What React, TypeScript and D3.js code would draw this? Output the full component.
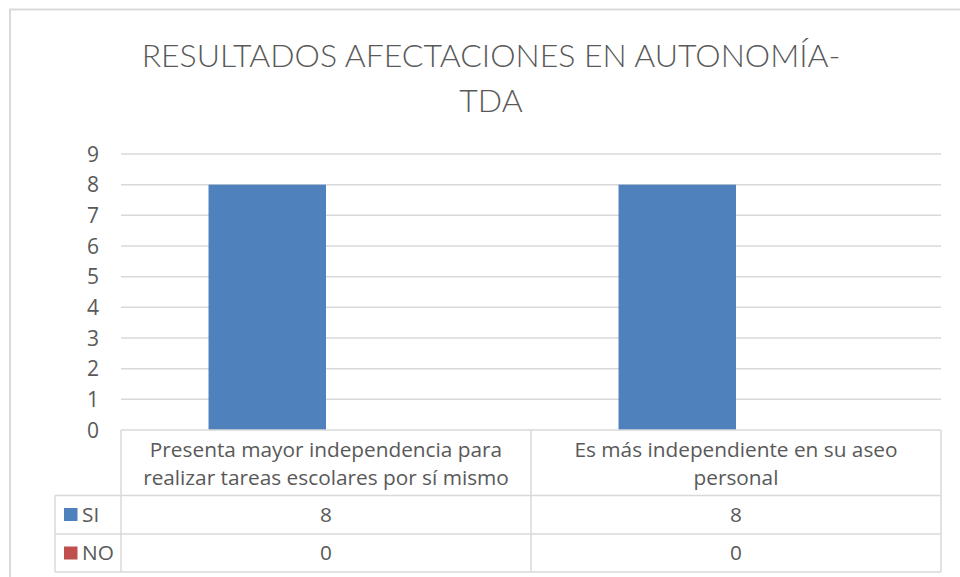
import React from "react";
import * as d3 from "d3";

const categories = [
  ["Presenta mayor independencia para", "realizar tareas escolares por sí mismo"],
  ["Es más independiente en su aseo", "personal"],
];
const categoryKeys = ["c1", "c2"];
const seriesNames = ["SI", "NO"];
const siValues = [8, 8];
const noValues = [0, 0];
const yTicks = [0, 1, 2, 3, 4, 5, 6, 7, 8, 9];
const titleLines = ["RESULTADOS AFECTACIONES EN AUTONOMÍA-", "TDA"];

const W = 960;
const H = 577;
const FONT = "'Open Sans', Lato, sans-serif";
const TITLE_FONT = "Lato, 'Open Sans', sans-serif";
const TEXT = "#595959";
const GRID = "#d9d9d9";
const COLORS = ["#4f81bd", "#c0504d"];

export default function App() {
  const plotL = 121;
  const plotR = 941;
  const plotT = 154;
  const plotB = 430;
  const y = d3.scaleLinear().domain([0, 9]).range([plotB, plotT]);
  const x = d3.scaleBand().domain(categoryKeys).range([plotL, plotR]).padding(0);
  const xs = d3
    .scaleBand()
    .domain(seriesNames)
    .range([0, x.bandwidth()])
    .paddingInner(0)
    .paddingOuter(0.745);
  const seriesValues = [siValues, noValues];

  const tableLeft = 55;
  const rowSI = 495.5;
  const rowNO = 534;
  const rowEnd = 572;

  return (
    <svg
      width={W}
      height={H}
      style={{ position: "absolute", left: 0, top: 0, background: "#fff" }}
      fontFamily={FONT}
    >
      <rect x={0} y={0} width={W} height={H} fill="#fff" />
      <rect x={10} y={9.5} width={W + 20} height={H + 20} fill="#fff" stroke={GRID} strokeWidth={2} />

      {titleLines.map((t, i) => (
        <text
          key={i}
          x={491}
          y={67 + i * 45}
          textAnchor="middle"
          fontSize={32}
          fill={TEXT}
          fontWeight={300}
          fontFamily={TITLE_FONT}
        >
          {t}
        </text>
      ))}

      {yTicks.map((t) => (
        <g key={t}>
          {t > 0 && (
            <line x1={plotL} x2={plotR} y1={y(t)} y2={y(t)} stroke={GRID} strokeWidth={1.5} />
          )}
          <text x={99} y={y(t) + 7.5} textAnchor="end" fontSize={21} fill={TEXT}>
            {t}
          </text>
        </g>
      ))}

      {categoryKeys.map((c, ci) =>
        seriesNames.map((s, si) => {
          const v = seriesValues[si][ci];
          const bx = (x(c) as number) + (xs(s) as number);
          return (
            <rect
              key={c + s}
              x={bx}
              y={y(v)}
              width={xs.bandwidth()}
              height={y(0) - y(v)}
              fill={COLORS[si]}
            />
          );
        })
      )}

      {/* data table */}
      <g stroke={GRID} strokeWidth={1.5} fill="none">
        <line x1={plotL} x2={plotR} y1={plotB} y2={plotB} />
        <line x1={tableLeft} x2={plotR} y1={rowSI} y2={rowSI} />
        <line x1={tableLeft} x2={plotR} y1={rowNO} y2={rowNO} />
        <line x1={tableLeft} x2={plotR} y1={rowEnd} y2={rowEnd} />
        <line x1={tableLeft} x2={tableLeft} y1={rowSI} y2={rowEnd} />
        {categoryKeys.map((c) => (
          <line key={c} x1={x(c) as number} x2={x(c) as number} y1={plotB} y2={rowEnd} />
        ))}
        <line x1={plotR} x2={plotR} y1={plotB} y2={rowEnd} />
      </g>

      {categoryKeys.map((c, ci) => {
        const cx = (x(c) as number) + x.bandwidth() / 2;
        return (
          <g key={c} fill={TEXT} fontSize={20.8} textAnchor="middle">
            {categories[ci].map((line, li) => (
              <text key={li} x={cx} y={457 + li * 28}>
                {line}
              </text>
            ))}
            <text x={cx} y={521.5}>{siValues[ci]}</text>
            <text x={cx} y={560}>{noValues[ci]}</text>
          </g>
        );
      })}

      {seriesNames.map((s, si) => {
        const rowTop = si === 0 ? rowSI : rowNO;
        return (
          <g key={s}>
            <rect x={64} y={rowTop + 12.5} width={13.5} height={13} fill={COLORS[si]} />
            <text x={82} y={rowTop + 26} fontSize={20.8} fill={TEXT}>
              {s}
            </text>
          </g>
        );
      })}
    </svg>
  );
}
